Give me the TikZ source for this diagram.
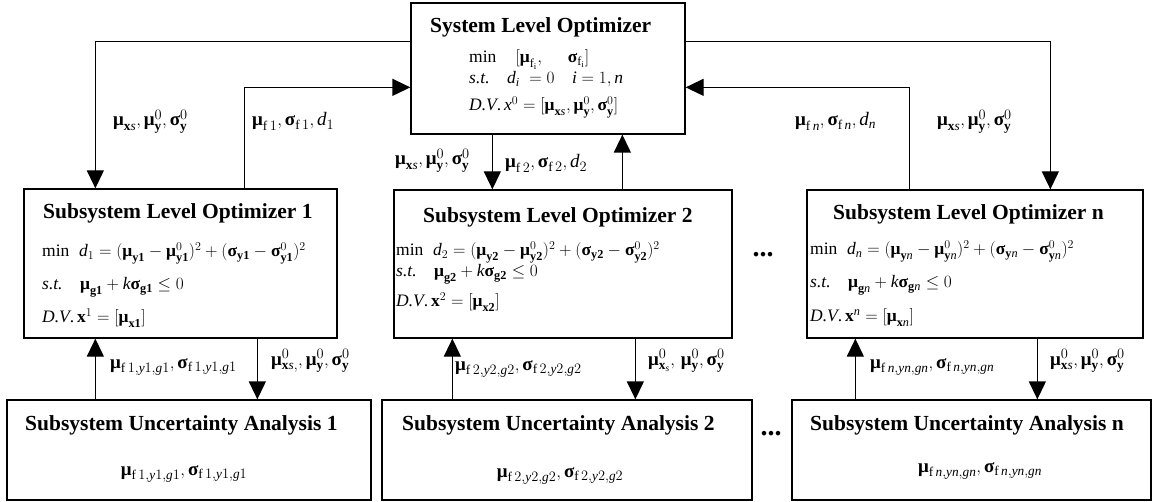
\documentclass[tikz,border=0pt]{standalone}
\usepackage{fontspec}
\setmainfont{Liberation Serif}
\usetikzlibrary{arrows.meta}
\newcommand\mub{\mbox{\bfseries μ}}
\newcommand\sgb{\mbox{\bfseries σ}}
\newcommand\mXS{\mathbf{x}\mathit{s}}
\newcommand\mYB{\mathbf{y}}
\newcommand\mIt[1]{\mathit{#1}}
\tikzset{
  box/.style={draw, line width=1.3pt, inner sep=0pt},
  ttl/.style={anchor=base west, inner sep=0pt, font=\fontsize{21.5}{24}\selectfont\bfseries},
  eq/.style={anchor=base west, inner sep=0pt, font=\fontsize{17.5}{21}\selectfont},
  lbl/.style={anchor=base west, inner sep=0pt, font=\fontsize{19}{22}\selectfont},
  arr/.style={line width=1.3pt, -{Triangle[length=18pt,width=17pt]}},
  dots/.style={inner sep=0pt, font=\fontsize{28}{30}\selectfont\bfseries}
}
\begin{document}
\begin{tikzpicture}[x=1pt,y=-1pt]
\useasboundingbox (0,0) rectangle (1153,502);
% boxes
\node[box, minimum width=274pt, minimum height=131pt] (sys) at (548,68.5) {};
\node[box, minimum width=313pt, minimum height=149pt] (ss1) at (180.5,263.5) {};
\node[box, minimum width=338pt, minimum height=148pt] (ss2) at (563,264) {};
\node[box, minimum width=336pt, minimum height=148pt] (ssn) at (975,264) {};
\node[box, minimum width=364pt, minimum height=100pt] (ua1) at (189,450) {};
\node[box, minimum width=370pt, minimum height=100pt] (ua2) at (567,450) {};
\node[box, minimum width=359pt, minimum height=100pt] (uan) at (971.5,450) {};
% system level
\node[ttl] (sysT) at (430,33) {System Level Optimizer};
\node[eq] (sysA) at (469,63) {min\hspace{1.1em}$[\mub_{\mathrm{f}_{\mathrm{i}}},\hspace{1.3em} \sgb_{\mathrm{f}_{\mathrm{i}}}]$};
\node[eq] (sysB) at (469,84) {\textit{s.t.}\quad$\mIt{d}_{\mIt{i}}\;=0\quad \mIt{i}=1,\mIt{n}$};
\node[eq] (sysC) at (469,111) {\textit{D.V}.\,$\mIt{x}^0=[\mub_{\mXS},\mub^0_{\mYB},\sgb^0_{\mYB}]$};
% subsystem 1
\node[ttl] (ss1T) at (43,219) {Subsystem Level Optimizer 1};
\node[eq] (ss1A) at (42,257) {min\;\;$\mIt{d}_1=(\mub_{\mathbf{y1}}-\mub^0_{\mathbf{y1}})^2+(\sgb_{\mathbf{y1}}-\sgb^0_{\mathbf{y1}})^2$};
\node[eq] (ss1B) at (42,290) {\textit{s.t.}\quad$\mub_{\mathbf{g1}}+\mIt{k}\sgb_{\mathbf{g1}}\le 0$};
\node[eq] (ss1C) at (42,323) {\textit{D.V}.\,$\mathbf{x}^1=[\mub_{\mathbf{x1}}]$};
% subsystem 2
\node[ttl] (ss2T) at (423,223) {Subsystem Level Optimizer 2};
\node[eq] (ss2A) at (396,256) {min\;\;$\mIt{d}_2=(\mub_{\mathbf{y2}}-\mub^0_{\mathbf{y2}})^2+(\sgb_{\mathbf{y2}}-\sgb^0_{\mathbf{y2}})^2$};
\node[eq] (ss2B) at (396,277) {\textit{s.t.}\quad$\mub_{\mathbf{g2}}+\mIt{k}\sgb_{\mathbf{g2}}\le 0$};
\node[eq] (ss2C) at (396,307) {\textit{D.V}.\,$\mathbf{x}^2=[\mub_{\mathbf{x2}}]$};
% subsystem n
\node[ttl] (ssnT) at (833,220) {Subsystem Level Optimizer n};
\node[eq] (ssnA) at (810,255) {min\;\;$\mIt{d}_{\mIt{n}}=(\mub_{\mYB\mIt{n}}-\mub^0_{\mYB\mIt{n}})^2+(\sgb_{\mYB\mIt{n}}-\sgb^0_{\mYB\mIt{n}})^2$};
\node[eq] (ssnB) at (810,288) {\textit{s.t.}\quad$\mub_{\mathbf{g}\mIt{n}}+\mIt{k}\sgb_{\mathbf{g}\mIt{n}}\le 0$};
\node[eq] (ssnC) at (810,322) {\textit{D.V}.\,$\mathbf{x}^{\mIt{n}}=[\mub_{\mathbf{x}\mIt{n}}]$};
% uncertainty analysis
\node[ttl] (ua1T) at (25,430) {Subsystem Uncertainty Analysis 1};
\node[lbl, anchor=base] (ua1A) at (184,475) {$\mub_{\mathrm{f}\,1,\mIt{y}1,\mIt{g}1},\sgb_{\mathrm{f}\,1,\mIt{y}1,\mIt{g}1}$};
\node[ttl] (ua2T) at (402,430) {Subsystem Uncertainty Analysis 2};
\node[lbl, anchor=base] (ua2A) at (560,477) {$\mub_{\mathrm{f}\,2,\mIt{y}2,\mIt{g}2},\sgb_{\mathrm{f}\,2,\mIt{y}2,\mIt{g}2}$};
\node[ttl] (uanT) at (810,430) {Subsystem Uncertainty Analysis n};
\node[lbl, anchor=base] (uanA) at (980,472) {$\mub_{\mathrm{f}\,\mIt{n},\mIt{yn},\mIt{gn}},\sgb_{\mathrm{f}\,\mIt{n},\mIt{yn},\mIt{gn}}$};
% dots
\node[dots] (d1) at (763,255) {...};
\node[dots] (d2) at (771,434) {...};
% connectors
\draw[arr] ([yshift=-39pt]sys.north west) -| ([xshift=72pt]ss1.north west);
\draw[arr] ([xshift=221pt]ss1.north west) |- ([yshift=-85pt]sys.north west);
\draw[arr] ([xshift=82pt]sys.south west) -- ([xshift=99pt]ss2.north west);
\draw[arr] ([xshift=229pt]ss2.north west) -- ([xshift=212pt]sys.south west);
\draw[arr] ([xshift=103pt]ssn.north west) |- ([yshift=-85pt]sys.north east);
\draw[arr] ([yshift=-39pt]sys.north east) -| ([xshift=244pt]ssn.north west);
\draw[arr] ([xshift=89pt]ua1.north west) -- ([xshift=72pt]ss1.south west);
\draw[arr] ([xshift=234pt]ss1.south west) -- ([xshift=251pt]ua1.north west);
\draw[arr] ([xshift=71pt]ua2.north west) -- ([xshift=59pt]ss2.south west);
\draw[arr] ([xshift=242pt]ss2.south west) -- ([xshift=254pt]ua2.north west);
\draw[arr] ([xshift=64pt]uan.north west) -- ([xshift=49pt]ssn.south west);
\draw[arr] ([xshift=231pt]ssn.south west) -- ([xshift=246pt]uan.north west);
% labels
\node[lbl] (la) at (113,126) {$\mub_{\mXS},\mub^0_{\mYB},\sgb^0_{\mYB}$};
\node[lbl] (lb) at (252,126) {$\mub_{\mathrm{f}\,1},\sgb_{\mathrm{f}\,1},\mIt{d}_1$};
\node[lbl] (lc) at (395,165) {$\mub_{\mXS},\mub^0_{\mYB},\sgb^0_{\mYB}$};
\node[lbl] (ld) at (505,168) {$\mub_{\mathrm{f}\,2},\sgb_{\mathrm{f}\,2},\mIt{d}_2$};
\node[lbl] (le) at (795,126) {$\mub_{\mathrm{f}\,\mIt{n}},\sgb_{\mathrm{f}\,\mIt{n}},\mIt{d}_{\mIt{n}}$};
\node[lbl] (lf) at (937,126) {$\mub_{\mXS},\mub^0_{\mYB},\sgb^0_{\mYB}$};
\node[lbl] (lg) at (110,368) {$\mub_{\mathrm{f}\,1,\mIt{y}1,\mIt{g}1},\sgb_{\mathrm{f}\,1,\mIt{y}1,\mIt{g}1}$};
\node[lbl] (lh) at (271,365) {$\mub^0_{\mXS,},\mub^0_{\mYB},\sgb^0_{\mYB}$};
\node[lbl] (li) at (455,370) {$\mub_{\mathrm{f}\,2,\mIt{y}2,\mIt{g}2},\sgb_{\mathrm{f}\,2,\mIt{y}2,\mIt{g}2}$};
\node[lbl] (lj) at (648,365) {$\mub^0_{\mathbf{x}_{\mIt{s}}},\,\mub^0_{\mYB},\sgb^0_{\mYB}$};
\node[lbl] (lk) at (870,368) {$\mub_{\mathrm{f}\,\mIt{n},\mIt{yn},\mIt{gn}},\sgb_{\mathrm{f}\,\mIt{n},\mIt{yn},\mIt{gn}}$};
\node[lbl] (ll) at (1050,365) {$\mub^0_{\mXS},\mub^0_{\mYB},\sgb^0_{\mYB}$};
\end{tikzpicture}
\end{document}
